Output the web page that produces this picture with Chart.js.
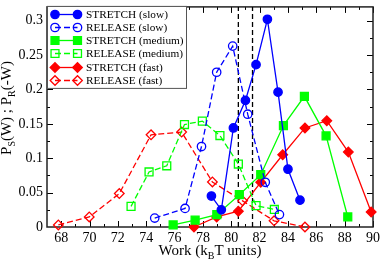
<!DOCTYPE html>
<html><head><meta charset="utf-8">
<script src="https://cdn.jsdelivr.net/npm/chart.js@4.4.1/dist/chart.umd.min.js"></script>
<style>html,body{margin:0;padding:0;background:#fff;}#wrap{position:relative;width:382px;height:264px;}</style>
</head><body><div id="wrap"><canvas id="c"></canvas></div>
<script>
// ---- data ----
const seriesLabels = ['STRETCH (slow)','RELEASE (slow)','STRETCH (medium)','RELEASE (medium)','STRETCH (fast)','RELEASE (fast)'];
const slowStretchX = [78.6, 79.3, 80.15, 81.0, 81.75, 82.55, 83.3, 84.0, 84.85];
const slowStretchY = [0.045, 0.025, 0.144, 0.184, 0.236, 0.302, 0.196, 0.084, 0.039];
const slowReleaseX = [74.6, 76.74, 77.9, 78.97, 80.1, 81.16, 82.4, 83.4];
const slowReleaseY = [0.013, 0.027, 0.117, 0.225, 0.263, 0.164, 0.065, 0.018];
const medStretchX = [75.9, 77.45, 78.98, 80.57, 82.08, 83.68, 85.16, 86.69, 88.22];
const medStretchY = [0.003, 0.010, 0.018, 0.047, 0.076, 0.1475, 0.190, 0.1325, 0.0146];
const medReleaseX = [72.93, 74.2, 75.45, 76.7, 77.96, 79.2, 80.5, 81.75, 83.04];
const medReleaseY = [0.030, 0.080, 0.089, 0.149, 0.154, 0.133, 0.0915, 0.031, 0.0255];
const fastStretchX = [77.37, 78.97, 80.5, 82.08, 83.63, 85.2, 86.74, 88.26, 89.87];
const fastStretchY = [0.000, 0.0146, 0.023, 0.065, 0.105, 0.144, 0.1546, 0.109, 0.0217];
const fastReleaseX = [67.8, 69.98, 72.1, 74.34, 76.5, 78.67, 80.8, 83.02, 85.2];
const fastReleaseY = [0.003, 0.0146, 0.0486, 0.134, 0.138, 0.0655, 0.038, 0.009, 0.0];
const refLinesX = [80.5, 81.5];
const xTickValues = [68, 70, 72, 74, 76, 78, 80, 82, 84, 86, 88, 90];
const yTickValues = [0, 0.05, 0.1, 0.15, 0.2, 0.25, 0.3];
const yTickLabels = ['0', '0.05', '0.1', '0.15', '0.2', '0.25', '0.3'];
const xRange = [67, 90];
const yRange = [0, 0.32];

// ---- styling ----
const SERIF = '"Liberation Serif","DejaVu Serif","Times New Roman",serif';
const BLUE = '#0000ff', GREEN = '#00ff00', RED = '#ff0000';
const pts = (xs, ys) => xs.map((x, i) => ({x, y: ys[i]}));
function series(label, xs, ys, color, style, r, filled, dashed) {
  return {
    label, data: pts(xs, ys), borderColor: color, borderWidth: 1.3,
    borderDash: dashed ? [6, 3] : [], tension: 0, clip: false,
    pointStyle: style, pointRadius: r, pointHoverRadius: r,
    pointBackgroundColor: filled ? color : 'rgba(0,0,0,0)',
    pointBorderColor: color, pointBorderWidth: 1.3,
    backgroundColor: color, fill: false
  };
}
const datasets = [
  series(seriesLabels[0], slowStretchX, slowStretchY, BLUE, 'circle', 4.2, true, false),
  series(seriesLabels[1], slowReleaseX, slowReleaseY, BLUE, 'circle', 4.2, false, true),
  series(seriesLabels[2], medStretchX, medStretchY, GREEN, 'rect', 5.6, true, false),
  series(seriesLabels[3], medReleaseX, medReleaseY, GREEN, 'rect', 5.6, false, true),
  series(seriesLabels[4], fastStretchX, fastStretchY, RED, 'rectRot', 4.8, true, false),
  series(seriesLabels[5], fastReleaseX, fastReleaseY, RED, 'rectRot', 4.8, false, true)
];
refLinesX.forEach(v => datasets.push({
  isRef: true, label: '', data: [{x: v, y: yRange[0]}, {x: v, y: yRange[1]}],
  borderColor: '#000', borderWidth: 1.3, borderDash: [5, 3], pointRadius: 0, fill: false, clip: false
}));

function marker(ctx, style, r, x, y, filled, color) {
  ctx.beginPath();
  if (style === 'circle') ctx.arc(x, y, r, 0, Math.PI * 2);
  else if (style === 'rect') { const s = r * Math.SQRT1_2; ctx.rect(x - s, y - s, 2 * s, 2 * s); }
  else { ctx.moveTo(x - r, y); ctx.lineTo(x, y - r); ctx.lineTo(x + r, y); ctx.lineTo(x, y + r); ctx.closePath(); }
  ctx.setLineDash([]);
  if (filled) { ctx.fillStyle = color; ctx.fill(); }
  ctx.strokeStyle = color; ctx.lineWidth = 1.3; ctx.stroke();
}

function richWidth(ctx, parts) {
  let w = 0;
  parts.forEach(p => { ctx.font = (p.sub ? '10px ' : '15px ') + SERIF; w += ctx.measureText(p.t).width; });
  return w;
}
function drawRich(ctx, parts, cx, by) {
  let x = cx - richWidth(ctx, parts) / 2;
  ctx.textBaseline = 'alphabetic'; ctx.textAlign = 'left'; ctx.fillStyle = '#000';
  parts.forEach(p => {
    ctx.font = (p.sub ? '10px ' : '15px ') + SERIF;
    ctx.fillText(p.t, x, by + (p.sub ? 4 : 0));
    x += ctx.measureText(p.t).width;
  });
}

const framePlugin = {
  id: 'frameTicks',
  beforeDatasetsDraw(chart) {
    const {ctx, chartArea: a, scales: {x, y}} = chart;
    ctx.save();
    ctx.strokeStyle = '#000'; ctx.lineWidth = 1;
    ctx.beginPath();
    const xt = [];
    for (let i = 0; i < xTickValues.length; i++) {
      xt.push([xTickValues[i], 6]);
      if (i < xTickValues.length - 1) xt.push([(xTickValues[i] + xTickValues[i + 1]) / 2, 3]);
    }
    xt.forEach(([v, len]) => {
      const px = Math.round(x.getPixelForValue(v)) + 0.5;
      ctx.moveTo(px, a.bottom); ctx.lineTo(px, a.bottom - len);
      ctx.moveTo(px, a.top); ctx.lineTo(px, a.top + len);
    });
    const yt = [];
    for (let i = 0; i < yTickValues.length; i++) {
      yt.push([yTickValues[i], 6]);
      yt.push([yTickValues[i] + 0.025, 3]);
    }
    yt.forEach(([v, len]) => {
      if (v <= yRange[0] || v >= yRange[1]) return;
      const py = Math.round(y.getPixelForValue(v)) + 0.5;
      ctx.moveTo(a.left, py); ctx.lineTo(a.left + len, py);
      ctx.moveTo(a.right, py); ctx.lineTo(a.right - len, py);
    });
    ctx.stroke();
    ctx.lineWidth = 1.5; ctx.strokeStyle = '#222';
    ctx.strokeRect(a.left, a.top, a.right - a.left, a.bottom - a.top);
    ctx.restore();
  },
  afterDraw(chart) {
    const {ctx, chartArea: a} = chart;
    ctx.save();
    // legend
    const x0 = a.left + 0.5, y0 = a.top - 0.5, w = 139, h = 82;
    ctx.fillStyle = '#fff'; ctx.fillRect(x0, y0, w, h);
    ctx.strokeStyle = '#555'; ctx.lineWidth = 1; ctx.setLineDash([]);
    ctx.strokeRect(x0, y0, w, h);
    chart.data.datasets.forEach((ds, i) => {
      if (ds.isRef) return;
      const cy = Math.round(y0 + 7.5 + i * 13.2) + 0.5;
      const xa = 55, xb = 77.5;
      ctx.beginPath(); ctx.strokeStyle = ds.borderColor; ctx.lineWidth = 1.3;
      ctx.setLineDash(ds.borderDash); ctx.moveTo(xa, cy); ctx.lineTo(xb, cy); ctx.stroke();
      const filled = ds.pointBackgroundColor !== 'rgba(0,0,0,0)';
      marker(ctx, ds.pointStyle, ds.pointRadius, xa, cy, filled, ds.borderColor);
      marker(ctx, ds.pointStyle, ds.pointRadius, xb, cy, filled, ds.borderColor);
      ctx.fillStyle = '#000'; ctx.font = '11.3px ' + SERIF; ctx.textBaseline = 'middle'; ctx.textAlign = 'left';
      ctx.fillText(ds.label, 86, cy + 0.5);
    });
    // axis titles
    drawRich(ctx, [{t: 'Work (k'}, {t: 'B', sub: true}, {t: 'T units)'}], (a.left + a.right) / 2, 255);
    ctx.save();
    ctx.translate(11, 108); ctx.rotate(-Math.PI / 2);
    drawRich(ctx, [{t: 'P'}, {t: 'S', sub: true}, {t: '(W) ; P'}, {t: 'R', sub: true}, {t: '(-W)'}], 0, 0);
    ctx.restore();
    ctx.restore();
  }
};

new Chart(document.getElementById('c'), {
  type: 'line',
  data: {datasets},
  plugins: [framePlugin],
  options: {
    responsive: true, maintainAspectRatio: false, animation: false, events: [],
    layout: {padding: {top: 1, right: 9, left: 0, bottom: 0}},
    plugins: {legend: {display: false}, tooltip: {enabled: false}, title: {display: false}},
    scales: {
      x: {
        type: 'linear', min: xRange[0], max: xRange[1],
        grid: {display: false, drawTicks: false}, border: {display: false},
        ticks: {color: '#000', font: {family: SERIF, size: 14}, padding: 3, maxRotation: 0, autoSkip: false,
                callback: v => String(v)},
        afterBuildTicks: s => { s.ticks = xTickValues.map(v => ({value: v})); },
        afterFit: s => { s.height = 37; s.paddingLeft = 0; s.paddingRight = 0; }
      },
      y: {
        type: 'linear', min: yRange[0], max: yRange[1],
        grid: {display: false, drawTicks: false}, border: {display: false},
        ticks: {color: '#000', font: {family: SERIF, size: 14}, padding: 4, autoSkip: false,
                callback: (v, i) => yTickLabels[i]},
        afterBuildTicks: s => { s.ticks = yTickValues.map(v => ({value: v})); },
        afterFit: s => { s.width = 47; s.paddingTop = 0; s.paddingBottom = 0; }
      }
    }
  }
});
</script></body></html>
